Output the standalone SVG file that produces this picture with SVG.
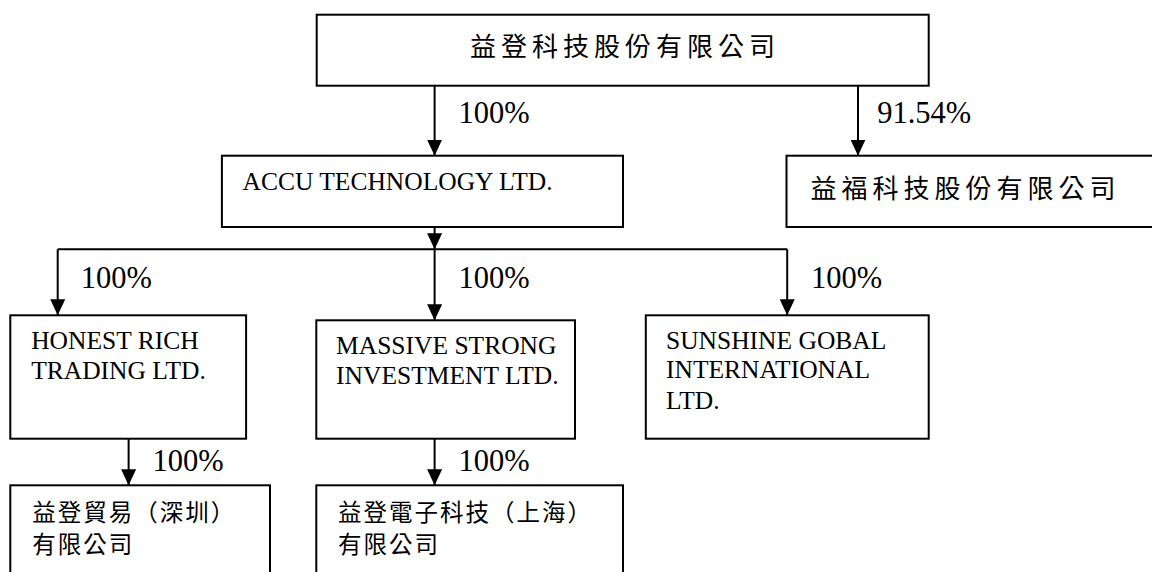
<svg xmlns="http://www.w3.org/2000/svg" width="1152" height="572" viewBox="0 0 1152 572">
  <style>
    .box { fill: #ffffff; stroke: #000000; stroke-width: 2; }
    .conn { fill: none; stroke: #000000; stroke-width: 2; }
    .en { font-family: "Liberation Serif", "Times New Roman", serif; font-size: 25.5px; fill: #000000; }
    .pct { font-family: "Liberation Serif", "Times New Roman", serif; font-size: 30.5px; fill: #000000; }
    .zh { font-family: "Liberation Serif", "Noto Sans CJK TC", serif; font-size: 26px; letter-spacing: 5px; fill: #000000; }
    .zhs { font-family: "Liberation Serif", "Noto Sans CJK TC", serif; font-size: 23.5px; letter-spacing: 2px; fill: #000000; }
  </style>
  <defs>
    <marker id="arrow" viewBox="0 0 16 15" refX="16" refY="7.5" markerWidth="16" markerHeight="15" orient="auto" markerUnits="userSpaceOnUse">
      <path d="M0,0 L16,7.5 L0,15 z" fill="#000000"/>
    </marker>
  </defs>
  <rect width="1152" height="572" fill="#ffffff"/>

  <g id="connectors">
    <path class="conn" d="M434.6,85.7 V155.7" marker-end="url(#arrow)"/>
    <path class="conn" d="M858,85.7 V155.7" marker-end="url(#arrow)"/>
    <path class="conn" d="M434.6,227 V249.3" marker-end="url(#arrow)"/>
    <path class="conn" d="M57.7,249.3 H787.2"/>
    <path class="conn" d="M57.7,249.3 V315.3" marker-end="url(#arrow)"/>
    <path class="conn" d="M434.6,249.3 V320.3" marker-end="url(#arrow)"/>
    <path class="conn" d="M787.2,249.3 V315.3" marker-end="url(#arrow)"/>
    <path class="conn" d="M128.6,438.7 V485.3" marker-end="url(#arrow)"/>
    <path class="conn" d="M434.6,438.7 V485.3" marker-end="url(#arrow)"/>
    <text class="pct" x="458.5" y="123.3">100%</text>
    <text class="pct" x="877.2" y="123.3">91.54%</text>
    <text class="pct" x="80.8" y="288">100%</text>
    <text class="pct" x="458.5" y="288">100%</text>
    <text class="pct" x="811" y="288">100%</text>
    <text class="pct" x="152.5" y="471">100%</text>
    <text class="pct" x="458.5" y="471">100%</text>
  </g>

  <g id="node-edom">
    <rect class="box" x="316.7" y="14.7" width="612" height="71"/>
    <text class="zh" x="470" y="56">益登科技股份有限公司</text>
  </g>

  <g id="node-accu">
    <rect class="box" x="221.9" y="155.7" width="401.1" height="71.3"/>
    <text class="en" x="242.5" y="190">ACCU TECHNOLOGY LTD.</text>
  </g>

  <g id="node-yifu">
    <rect class="box" x="786.5" y="155.7" width="380" height="71.3"/>
    <text class="zh" x="810.4" y="198">益福科技股份有限公司</text>
  </g>

  <g id="node-honest">
    <rect class="box" x="10.3" y="315.3" width="235.8" height="123.4"/>
    <text class="en" x="31.2" y="349.3">HONEST RICH</text>
    <text class="en" x="31.2" y="379.3">TRADING LTD.</text>
  </g>

  <g id="node-massive">
    <rect class="box" x="316.3" y="320.3" width="258.7" height="118.4"/>
    <text class="en" x="336.1" y="354.3">MASSIVE STRONG</text>
    <text class="en" x="336.1" y="384.3">INVESTMENT LTD.</text>
  </g>

  <g id="node-sunshine">
    <rect class="box" x="645.8" y="315.3" width="282.9" height="123.4"/>
    <text class="en" x="666" y="348.7">SUNSHINE GOBAL</text>
    <text class="en" x="666" y="378.3">INTERNATIONAL</text>
    <text class="en" x="666" y="409.3">LTD.</text>
  </g>

  <g id="node-shenzhen">
    <rect class="box" x="10.3" y="485.3" width="259.7" height="100"/>
    <text class="zhs" x="32.3" y="521">益登貿易（深圳）</text>
    <text class="zhs" x="32.3" y="553">有限公司</text>
  </g>

  <g id="node-shanghai">
    <rect class="box" x="316.3" y="485.3" width="306.7" height="100"/>
    <text class="zhs" x="338" y="521">益登電子科技（上海）</text>
    <text class="zhs" x="338" y="553">有限公司</text>
  </g>
</svg>
